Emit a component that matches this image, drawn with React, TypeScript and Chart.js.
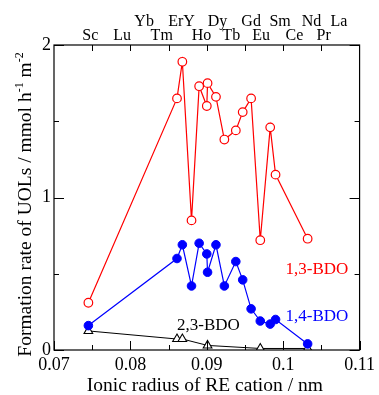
import React, { useEffect, useRef } from "react";
import { Chart, registerables } from "chart.js";

Chart.register(...registerables);

// ---- data ----
const radius13: number[] = [0.0745, 0.0861, 0.0868, 0.088, 0.089, 0.090, 0.0901, 0.0912, 0.0923, 0.0938, 0.0947, 0.0958, 0.097, 0.0983, 0.099, 0.1032];
const bdo13: number[] = [0.31, 1.65, 1.89, 0.85, 1.73, 1.60, 1.75, 1.66, 1.38, 1.44, 1.56, 1.65, 0.72, 1.46, 1.15, 0.73];
const radius14: number[] = [0.0745, 0.0861, 0.0868, 0.088, 0.089, 0.090, 0.0901, 0.0912, 0.0923, 0.0938, 0.0947, 0.0958, 0.097, 0.0983, 0.099, 0.1032];
const bdo14: number[] = [0.16, 0.60, 0.69, 0.42, 0.70, 0.63, 0.51, 0.69, 0.42, 0.58, 0.46, 0.27, 0.19, 0.17, 0.20, 0.04];
const radius23: number[] = [0.0745, 0.0861, 0.0868, 0.0901, 0.097, 0.1032];
const bdo23: number[] = [0.125, 0.072, 0.072, 0.03, 0.01, 0.01];

// top element labels (two rows) and their positions in ionic-radius units
const elemUpper: string[] = ["Yb", "ErY", "Dy", "Gd", "Sm", "Nd", "La"];
const elemUpperAt: number[] = [0.0818, 0.0867, 0.0914, 0.0958, 0.0996, 0.1037, 0.1073];
const elemLower: string[] = ["Sc", "Lu", "Tm", "Ho", "Tb", "Eu", "Ce", "Pr"];
const elemLowerAt: number[] = [0.07475, 0.07893, 0.0841, 0.0893, 0.0932, 0.0971, 0.10146, 0.1053];

// series annotations
const annotText: string[] = ["1,3-BDO", "1,4-BDO", "2,3-BDO"];
const annotX: number[] = [0.1003, 0.1003, 0.0861];
const annotY: number[] = [0.498, 0.19, 0.131];
const annotColor: string[] = ["#ff0000", "#0000ff", "#000000"];

// axis ticks
const xMajor: number[] = [0.07, 0.08, 0.09, 0.1, 0.11];
const xMinor: number[] = [0.075, 0.085, 0.095, 0.105];
const xTop: number[] = [0.075, 0.08, 0.085, 0.09, 0.095, 0.1, 0.105];
const yMajor: number[] = [0, 1, 2];
const yMinor: number[] = [0.5, 1.5];

const FONT = "'Liberation Serif', 'Times New Roman', serif";

const toXY = (xs: number[], ys: number[]) => xs.map((x, i) => ({ x, y: ys[i] }));

const decorPlugin = {
  id: "decor",
  afterDraw(chart: any) {
    const { ctx, chartArea: a, scales } = chart;
    const xs = scales.x;
    const ys = scales.y;
    ctx.save();
    ctx.strokeStyle = "#000";
    ctx.lineWidth = 1.2;
    ctx.strokeRect(a.left, a.top, a.right - a.left, a.bottom - a.top);

    ctx.lineWidth = 1;
    ctx.beginPath();
    const vt = (v: number, len: number, bottom: boolean) => {
      const px = Math.round(xs.getPixelForValue(v)) + 0.5;
      if (bottom) {
        ctx.moveTo(px, a.bottom);
        ctx.lineTo(px, a.bottom - len);
      } else {
        ctx.moveTo(px, a.top);
        ctx.lineTo(px, a.top + len);
      }
    };
    xMajor.forEach((v) => vt(v, 9, true));
    xMinor.forEach((v) => vt(v, 5, true));
    xTop.forEach((v) => vt(v, 6, false));
    const ht = (v: number, len: number) => {
      const py = Math.round(ys.getPixelForValue(v)) + 0.5;
      ctx.moveTo(a.left, py);
      ctx.lineTo(a.left + len, py);
      ctx.moveTo(a.right, py);
      ctx.lineTo(a.right - len, py);
    };
    yMajor.forEach((v) => ht(v, 10));
    yMinor.forEach((v) => ht(v, 5));
    ctx.stroke();

    // top element labels
    ctx.fillStyle = "#000";
    ctx.font = `16px ${FONT}`;
    ctx.textAlign = "center";
    ctx.textBaseline = "alphabetic";
    elemUpper.forEach((t, i) => ctx.fillText(t, xs.getPixelForValue(elemUpperAt[i]), a.top - 19));
    elemLower.forEach((t, i) => ctx.fillText(t, xs.getPixelForValue(elemLowerAt[i]), a.top - 5));

    // annotations
    ctx.font = `17px ${FONT}`;
    ctx.textAlign = "left";
    annotText.forEach((t, i) => {
      ctx.fillStyle = annotColor[i];
      ctx.fillText(t, xs.getPixelForValue(annotX[i]), ys.getPixelForValue(annotY[i]));
    });

    // x title
    ctx.fillStyle = "#000";
    ctx.font = `19.5px ${FONT}`;
    ctx.textAlign = "center";
    ctx.fillText("Ionic radius of RE cation / nm", (a.left + a.right) / 2 - 2, 391);

    // y title with superscripts
    const parts: [string, boolean][] = [
      ["Formation rate of UOLs / mmol h", false],
      ["-1", true],
      [" m", false],
      ["-2", true],
    ];
    const big = `19.5px ${FONT}`;
    const small = `12px ${FONT}`;
    let total = 0;
    parts.forEach(([t, sup]) => {
      ctx.font = sup ? small : big;
      total += ctx.measureText(t).width;
    });
    ctx.translate(31, (a.top + a.bottom) / 2 + 7);
    ctx.rotate(-Math.PI / 2);
    ctx.textAlign = "left";
    let cx = -total / 2;
    parts.forEach(([t, sup]) => {
      ctx.font = sup ? small : big;
      ctx.fillText(t, cx, sup ? -8 : 0);
      cx += ctx.measureText(t).width;
    });
    ctx.restore();
  },
};

export default function App() {
  const ref = useRef<HTMLCanvasElement | null>(null);
  useEffect(() => {
    document.body.style.margin = "0";
    const canvas = ref.current;
    if (!canvas) return;
    const chart = new Chart(canvas, {
      type: "line",
      data: {
        datasets: [
          {
            label: "1,3-BDO",
            data: toXY(radius13, bdo13),
            borderColor: "#ff0000",
            backgroundColor: "#ffffff",
            borderWidth: 1.2,
            pointRadius: 4.3,
            pointBorderWidth: 1.2,
            pointStyle: "circle",
            order: 1,
          },
          {
            label: "1,4-BDO",
            data: toXY(radius14, bdo14),
            borderColor: "#0000ff",
            backgroundColor: "#0000ff",
            borderWidth: 1.2,
            pointRadius: 4.3,
            pointBorderWidth: 1,
            pointStyle: "circle",
            order: 2,
          },
          {
            label: "2,3-BDO",
            data: toXY(radius23, bdo23),
            borderColor: "#000000",
            backgroundColor: "#ffffff",
            borderWidth: 1,
            pointRadius: 5,
            pointBorderWidth: 1.1,
            pointStyle: "triangle",
            order: 3,
          },
        ],
      },
      options: {
        animation: false,
        responsive: false,
        layout: { padding: { top: 45, right: 16, left: 0, bottom: 0 } },
        plugins: { legend: { display: false }, tooltip: { enabled: false } },
        elements: { line: { tension: 0 } },
        scales: {
          x: {
            type: "linear",
            min: 0.07,
            max: 0.11,
            grid: { display: false, drawTicks: false },
            border: { display: false },
            ticks: {
              stepSize: 0.01,
              padding: 4,
              color: "#000",
              maxRotation: 0,
              autoSkip: false,
              font: { family: FONT, size: 18 },
              callback: (v: any) => String(Number(Number(v).toFixed(3))),
            },
            afterFit: (s: any) => {
              s.height = 45;
            },
          },
          y: {
            type: "linear",
            min: 0,
            max: 2,
            grid: { display: false, drawTicks: false },
            border: { display: false },
            ticks: {
              stepSize: 1,
              padding: 3,
              color: "#000",
              font: { family: FONT, size: 18 },
              callback: (v: any) => String(v),
            },
            afterFit: (s: any) => {
              s.width = 54;
            },
          },
        },
      },
      plugins: [decorPlugin],
    } as any);
    return () => chart.destroy();
  }, []);
  return (
    <div style={{ width: 379, height: 395 }}>
      <canvas ref={ref} width={379} height={395} style={{ display: "block" }} />
    </div>
  );
}
